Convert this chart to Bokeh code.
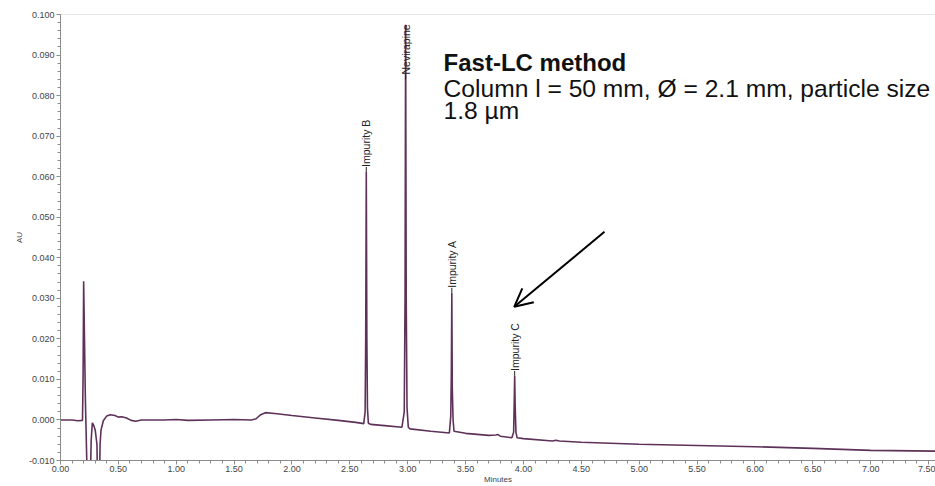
import numpy as np
from bokeh.plotting import figure
from bokeh.models import (Range1d, SingleIntervalTicker, NumeralTickFormatter, Arrow,
                          OpenHead, Label, Span, ColumnDataSource)
from bokeh.core.properties import value
from bokeh.embed import file_html
from bokeh.resources import INLINE

# ---- chromatogram trace (minutes, AU) ----
time_min = [0.00, 0.10, 0.15, 0.19, 0.195, 0.200, 0.215, 0.235, 0.255, 0.265, 0.275, 0.285,
            0.300, 0.315, 0.322, 0.335, 0.342, 0.350, 0.37, 0.40, 0.43, 0.47, 0.50, 0.53,
            0.57, 0.61, 0.65, 0.70, 0.90, 1.00, 1.10, 1.30, 1.50, 1.65, 1.69, 1.73, 1.77,
            1.85, 2.00, 2.20, 2.40, 2.55, 2.62, 2.632, 2.637, 2.642, 2.647, 2.652, 2.66,
            2.68, 2.80, 2.95, 2.970, 2.977, 2.982, 2.987, 2.994, 3.005, 3.02, 3.20, 3.36,
            3.372, 3.377, 3.381, 3.385, 3.392, 3.40, 3.50, 3.70, 3.76, 3.78, 3.80, 3.90,
            3.915, 3.920, 3.924, 3.928, 3.935, 3.945, 4.00, 4.25, 4.28, 4.31, 4.50, 5.00,
            5.50, 6.00, 6.50, 7.00, 7.56]
au = [0.0000, 0.0000, -0.0002, -0.0001, 0.0100, 0.0342, 0.0050, -0.0200, -0.0200, -0.0050,
      -0.0007, -0.0012, -0.0025, -0.0060, -0.0200, -0.0200, -0.0060, -0.0025, -0.0002, 0.0010,
      0.0013, 0.0011, 0.0007, 0.0008, 0.0005, -0.0001, -0.0003, 0.0000, 0.0000, 0.0001,
      -0.0001, 0.0000, 0.0001, 0.0000, 0.0003, 0.0013, 0.0018, 0.0016, 0.0011, 0.0005,
      -0.0001, -0.0006, -0.0009, 0.0020, 0.0200, 0.0612, 0.0200, 0.0030, -0.0008,
      -0.0011, -0.0014, -0.0018, 0.0020, 0.0300, 0.0975, 0.0300, 0.0030, -0.0018, -0.0022,
      -0.0028, -0.0032, 0.0010, 0.0120, 0.0314, 0.0080, 0.0000, -0.0028, -0.0033, -0.0038,
      -0.0037, -0.0036, -0.0040, -0.0044, -0.0030, 0.0040, 0.0109, 0.0040, -0.0030,
      -0.0044, -0.0046, -0.0052, -0.0050, -0.0052, -0.0055, -0.0060, -0.0063, -0.0066,
      -0.0070, -0.0075, -0.0077]

# ---- peak labels ----
peak_names = ["Impurity B", "Nevirapine", "Impurity A", "Impurity C"]
peak_time = [2.642, 2.982, 3.381, 3.924]
peak_height = [0.0612, 0.0975, 0.0314, 0.0109]
label_base = [0.0612, 0.0840, 0.0314, 0.0109]

# ---- annotation texts ----
note_lines = ["Fast-LC method", "Column l = 50 mm, \u00d8 = 2.1 mm, particle size", "1.8 \u00b5m"]
note_sizes = ["24px", "24.6px", "24.6px"]
note_x = 3.31
note_y = [0.0882, 0.0817, 0.0762]
arrow_from = (4.70, 0.0464)
arrow_to = (3.92, 0.0279)

FONT = "Liberation Sans"
AXIS_GRAY = "#8c8c8c"

p = figure(width=935, height=486, output_backend="svg", toolbar_location=None,
           x_range=Range1d(0, 7.56), y_range=Range1d(-0.010, 0.100),
           min_border_left=60, min_border_right=0, min_border_top=14, min_border_bottom=25,
           background_fill_color="white", border_fill_color="white")
p.outline_line_color = None
p.grid.grid_line_color = None

p.xaxis.ticker = SingleIntervalTicker(interval=0.5, num_minor_ticks=5)
p.yaxis.ticker = SingleIntervalTicker(interval=0.01, num_minor_ticks=5)
p.xaxis.formatter = NumeralTickFormatter(format="0.00")
p.yaxis.formatter = NumeralTickFormatter(format="0.000")
p.xaxis.axis_label = "Minutes"
p.yaxis.axis_label = "AU"
for ax in (p.xaxis, p.yaxis):
    ax.axis_line_color = AXIS_GRAY
    ax.major_tick_line_color = AXIS_GRAY
    ax.minor_tick_line_color = AXIS_GRAY
    ax.major_tick_out = 4
    ax.major_tick_in = 0
    ax.minor_tick_out = 3
    ax.minor_tick_in = 0
    ax.major_label_text_font = FONT
    ax.major_label_text_font_size = "9px"
    ax.major_label_text_color = "#444444"
    ax.axis_label_text_font = FONT
    ax.axis_label_text_font_size = "8px"
    ax.axis_label_text_font_style = "normal"
    ax.axis_label_text_color = "#444444"
p.xaxis.major_label_standoff = 1
p.xaxis.axis_label_standoff = 0
p.yaxis.major_label_standoff = 2
p.yaxis.axis_label_standoff = 2

p.add_layout(Span(location=0.100, dimension="width", line_color="#d0d0d0", line_width=1))

p.line(time_min, au, line_color="#5e3159", line_width=1.6)

stem = 0.0012
src = ColumnDataSource(dict(t=peak_time, h=label_base, h2=[b + stem for b in label_base],
                            name=peak_names))
p.segment(x0="t", y0="h", x1="t", y1="h2", source=src, line_color="#222222", line_width=1)
p.text(x="t", y="h2", text="name", source=src, angle=np.pi / 2, text_align="left",
       text_baseline="middle", text_font_size="10.5px", text_color="#222222",
       text_font=value(FONT))

for i, (line, y) in enumerate(zip(note_lines, note_y)):
    p.add_layout(Label(x=note_x, y=y, text=line, text_font=FONT, text_font_size=note_sizes[i],
                       text_font_style="bold" if i == 0 else "normal", text_color="#111111",
                       text_baseline="alphabetic"))

p.add_layout(Arrow(end=OpenHead(size=18, line_color="black", line_width=2),
                   x_start=arrow_from[0], y_start=arrow_from[1],
                   x_end=arrow_to[0], y_end=arrow_to[1],
                   line_color="black", line_width=2))

open("out.html", "w").write(file_html(p, INLINE))
